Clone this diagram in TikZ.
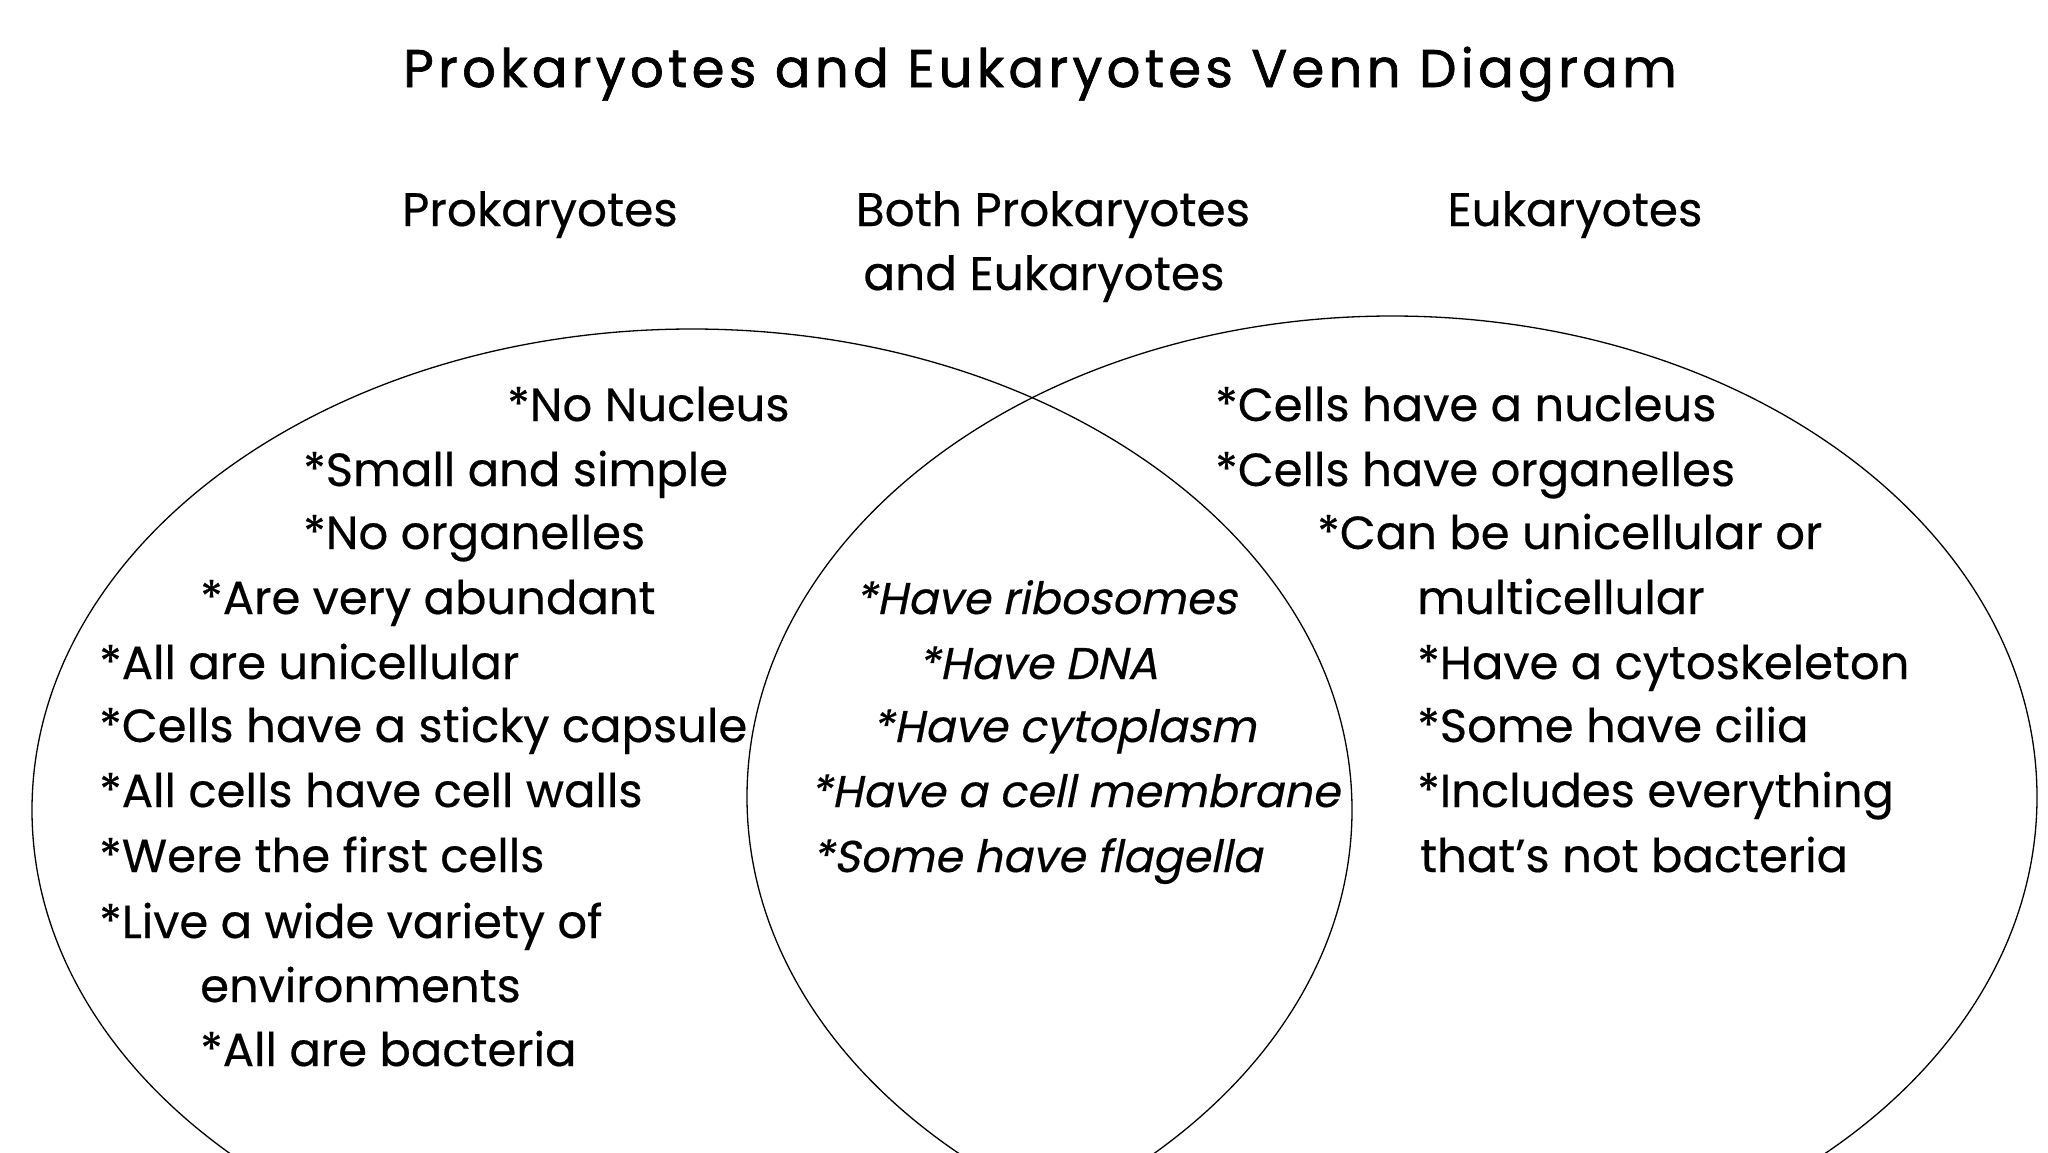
\documentclass[tikz,border=0pt]{standalone}
\usepackage{fontspec}
\setmainfont[FakeBold=0.4]{Poppins}
\newfontfamily\itfont[FakeSlant=0.2,FakeBold=0.4]{Poppins}
\newfontfamily\titlefont[LetterSpace=8,FakeBold=1.2]{Poppins}
\begin{document}
\begin{tikzpicture}[x=1pt,y=-1pt,
  txt/.style={anchor=base west, inner sep=0pt, font=\fontsize{46.5}{50}\selectfont},
  itx/.style={anchor=base west, inner sep=0pt, font=\itfont\fontsize{44.5}{50}\selectfont},
  head/.style={anchor=base, inner sep=0pt, font=\fontsize{47}{50}\selectfont},
  venn/.style={draw=black, line width=1.3pt}]
\useasboundingbox (0,0) rectangle (2048,1152);
\fill[white] (0,0) rectangle (2048,1152);
\begin{scope}
\clip (0,0) rectangle (2048,1152);
\draw[venn] (692,810) ellipse [x radius=660pt, y radius=481pt];
\draw[venn] (1392,797) ellipse [x radius=645pt, y radius=481pt];
\end{scope}
\node[anchor=base, inner sep=0pt, font=\titlefont\fontsize{53}{60}\selectfont] (title) at (1040,87) {Prokaryotes and Eukaryotes Venn Diagram};
\node[head] (hp) at (540,226) {Prokaryotes};
\node[head] (hb1) at (1053,226) {Both Prokaryotes};
\node[head] (hb2) at (1044,290) {and Eukaryotes};
\node[head] (he) at (1575,226) {Eukaryotes};
% left
\node[txt] (p1) at (507,421) {*No Nucleus};
\node[txt] (p2) at (303,486) {*Small and simple};
\node[txt] (p3) at (303,549) {*No organelles};
\node[txt] (p4) at (200,614) {*Are very abundant};
\node[txt] (p5) at (99,679) {*All are unicellular};
\node[txt] (p6) at (99,742) {*Cells have a sticky capsule};
\node[txt] (p7) at (99,807) {*All cells have cell walls};
\node[txt] (p8) at (99,872) {*Were the first cells};
\node[txt] (p9) at (99,938) {*Live a wide variety of};
\node[txt] (p10) at (200,1002) {environments};
\node[txt] (p11) at (200,1066) {*All are bacteria};
% middle
\node[itx] (b1) at (855,614) {*Have ribosomes};
\node[itx] (b2) at (918,679) {*Have DNA};
\node[itx] (b3) at (872,742) {*Have cytoplasm};
\node[itx] (b4) at (810,807) {*Have a cell membrane};
\node[itx] (b5) at (812,872) {*Some have flagella};
% right
\node[txt] (e1) at (1215,421) {*Cells have a nucleus};
\node[txt] (e2) at (1215,486) {*Cells have organelles};
\node[txt] (e3) at (1317,549) {*Can be unicellular or};
\node[txt] (e4) at (1417,614) {multicellular};
\node[txt] (e5) at (1417,679) {*Have a cytoskeleton};
\node[txt] (e6) at (1417,742) {*Some have cilia};
\node[txt] (e7) at (1417,807) {*Includes everything};
\node[txt] (e8) at (1420,872) {that’s not bacteria};
\end{tikzpicture}
\end{document}
